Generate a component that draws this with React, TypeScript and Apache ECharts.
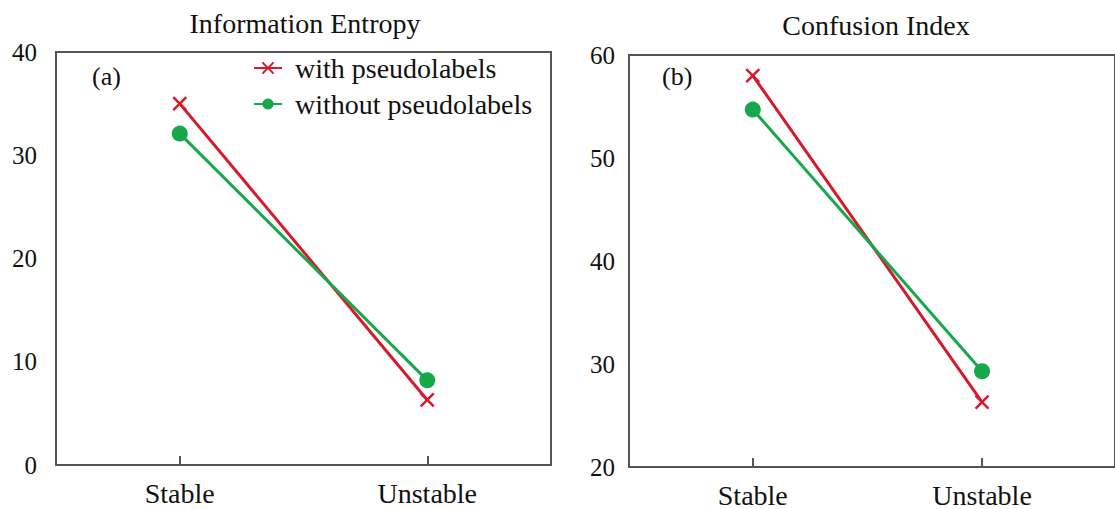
import React, { useEffect, useRef } from "react";
import * as echarts from "echarts";

const categories = ["Stable", "Unstable"];
const seriesNames = ["with pseudolabels", "without pseudolabels"];
const entropyWith = [35.0, 6.3];
const entropyWithout = [32.1, 8.2];
const confusionWith = [58.0, 26.3];
const confusionWithout = [54.7, 29.3];
const titles = ["Information Entropy", "Confusion Index"];
const panelTags = ["(a)", "(b)"];

const RED = "#d61a2c";
const GREEN = "#17a84b";
const AXIS = "#555555";
const FONT = "'Liberation Serif', 'Times New Roman', serif";
const CROSS = "path://M0,0L10,10M10,0L0,10";

export default function App() {
  const ref = useRef<HTMLDivElement>(null);
  useEffect(() => {
    if (!ref.current) return;
    const chart = echarts.init(ref.current, null, { renderer: "svg" });
    const toPts = (arr: number[]) => arr.map((v, i) => [i, v]);
    const xAxisBase = (min: number, max: number, gi: number) => ({
      type: "value",
      gridIndex: gi,
      min,
      max,
      splitLine: { show: false },
      axisLine: { show: false },
      axisTick: {
        show: true,
        inside: true,
        length: 9,
        customValues: [0, 1],
        lineStyle: { color: AXIS, width: 2 },
      },
      axisLabel: {
        customValues: [0, 1],
        formatter: (v: number) => categories[Math.round(v)] ?? "",
        fontFamily: FONT,
        fontSize: 28,
        color: "#111",
        margin: 14,
      },
    });
    const yAxisBase = (min: number, max: number, gi: number, margin: number) => ({
      type: "value",
      gridIndex: gi,
      min,
      max,
      interval: 10,
      splitLine: { show: false },
      axisLine: { show: false },
      axisTick: { show: false },
      axisLabel: { fontFamily: FONT, fontSize: 25, color: "#111", margin },
    });
    const redSeries = (data: number[], xi: number) => ({
      name: seriesNames[0],
      type: "line",
      xAxisIndex: xi,
      yAxisIndex: xi,
      data: toPts(data),
      symbol: CROSS,
      symbolSize: 13,
      lineStyle: { color: RED, width: 3 },
      itemStyle: { color: RED, borderColor: RED, borderWidth: 2.5 },
      z: 3,
    });
    const greenSeries = (data: number[], xi: number) => ({
      name: seriesNames[1],
      type: "line",
      xAxisIndex: xi,
      yAxisIndex: xi,
      data: toPts(data),
      symbol: "circle",
      symbolSize: 16,
      lineStyle: { color: GREEN, width: 3 },
      itemStyle: { color: GREEN, borderWidth: 0 },
      z: 4,
    });
    const titleStyle = { fontFamily: FONT, fontSize: 28, fontWeight: "normal", color: "#111" };
    chart.setOption({
      animation: false,
      backgroundColor: "#ffffff",
      textStyle: { fontFamily: FONT },
      title: [
        { text: titles[0], left: 300, top: 4, textAlign: "center", textStyle: titleStyle },
        { text: titles[1], left: 871, top: 6, textAlign: "center", textStyle: titleStyle },
      ],
      legend: {
        data: seriesNames,
        orient: "vertical",
        left: 248,
        top: 49,
        itemWidth: 28,
        itemHeight: 14,
        itemGap: 8,
        textStyle: {
          fontFamily: FONT,
          fontSize: 28,
          color: "#111",
          padding: [0, 0, 0, 8],
        },
      },
      grid: [
        {
          left: 56,
          top: 52,
          width: 495,
          height: 413,
          show: true,
          borderColor: AXIS,
          borderWidth: 2,
          backgroundColor: "transparent",
        },
        {
          left: 629,
          top: 55,
          right: -30,
          height: 413,
          show: true,
          borderColor: AXIS,
          borderWidth: 2,
          backgroundColor: "transparent",
        },
      ],
      xAxis: [xAxisBase(-0.5, 1.5, 0), xAxisBase(-0.54, 1.58, 1)],
      yAxis: [yAxisBase(0, 40, 0, 19), yAxisBase(20, 60, 1, 14)],
      graphic: [
        {
          type: "text",
          left: 92,
          top: 63,
          style: { text: panelTags[0], fontFamily: FONT, fontSize: 26, fill: "#111" },
        },
        {
          type: "text",
          left: 662,
          top: 63,
          style: { text: panelTags[1], fontFamily: FONT, fontSize: 26, fill: "#111" },
        },
      ],
      series: [
        redSeries(entropyWith, 0),
        greenSeries(entropyWithout, 0),
        redSeries(confusionWith, 1),
        greenSeries(confusionWithout, 1),
      ],
    });
    return () => chart.dispose();
  }, []);
  return (
    <div
      ref={ref}
      style={{ position: "fixed", left: 0, top: 0, width: 1115, height: 509, background: "#fff" }}
    />
  );
}
